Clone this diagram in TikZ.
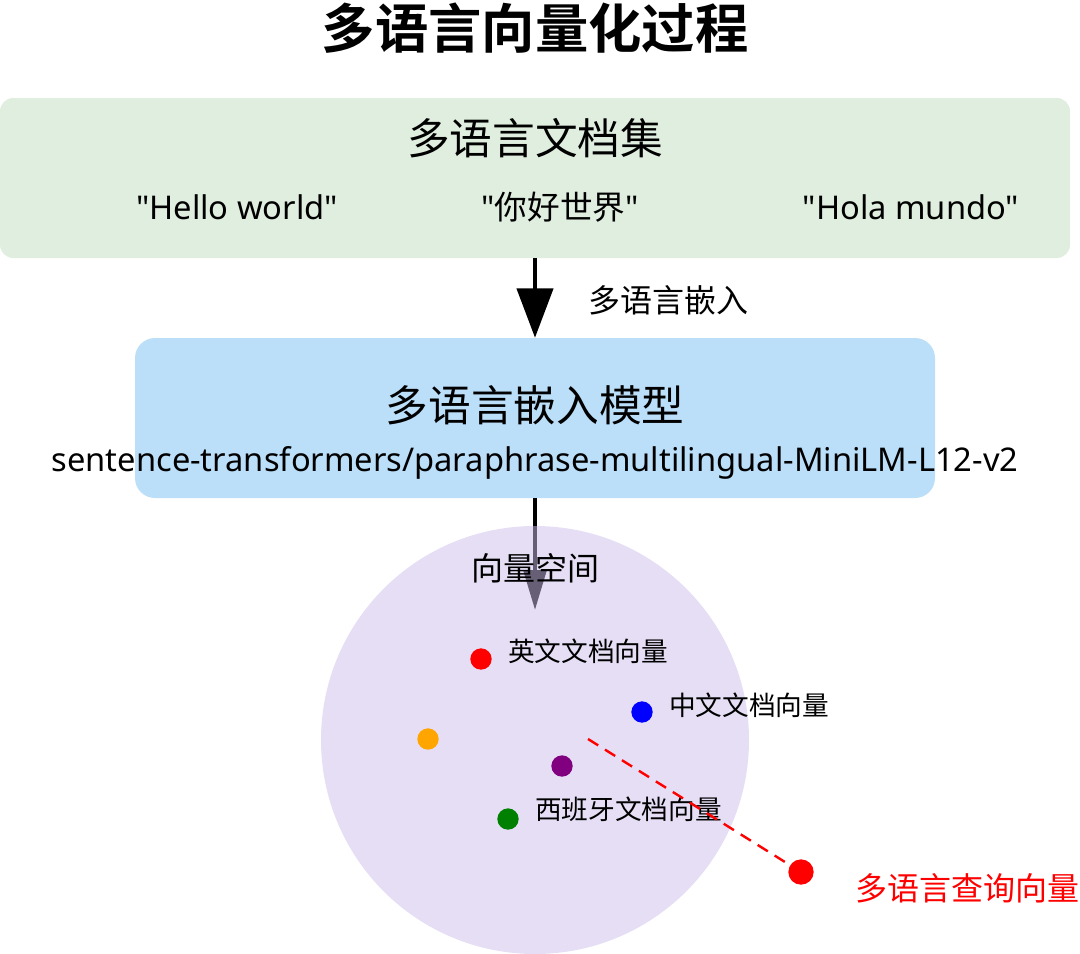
\documentclass[tikz,border=0pt]{standalone}
\usepackage{fontspec}
\setmainfont{Noto Sans CJK SC}
\newfontfamily\cjkbold{Noto Sans CJK SC Bold}
\newfontfamily\latinfont{Noto Sans}
\newcommand\dq{\symbol{34}}
\usetikzlibrary{arrows.meta}
\definecolor{boxgreen}{RGB}{223,238,223}
\definecolor{boxblue}{RGB}{187,222,249}
\definecolor{spacepurple}{RGB}{205,190,235}
\definecolor{dotorange}{RGB}{255,165,0}
\definecolor{dotpurple}{RGB}{128,0,128}
\definecolor{dotgreen}{RGB}{0,128,0}
\tikzset{
  panel/.style={rounded corners=10pt, inner sep=0pt},
  dot/.style={circle, inner sep=0pt, minimum size=16pt},
  lbl/.style={font=\fontsize{20}{24}\selectfont, anchor=west, inner sep=0pt},
  sample/.style={font=\latinfont\fontsize{24.5}{28}\selectfont, inner sep=0pt},
  bigarrow/.style={line width=3.2pt, -{Triangle[width=27pt,length=37pt]}},
}
\begin{document}
\begin{tikzpicture}[x=0.75pt,y=-0.75pt]
\useasboundingbox (0,0) rectangle (1080,953);
\node[font=\cjkbold\fontsize{40}{44}\selectfont, inner sep=0pt] (title) at (535,28) {多语言向量化过程};
\node[panel, fill=boxgreen, minimum width=802.5pt, minimum height=120pt] (docs) at (535,178) {};
\node[font=\fontsize{32}{36}\selectfont, inner sep=0pt] (docstitle) at (535,138) {多语言文档集};
\node[sample] (en) at (237,207) {\dq Hello world\dq};
\node[sample] (zh) at (560,207) {\dq{\rmfamily 你好世界}\dq};
\node[sample] (es) at (911,207) {\dq Hola mundo\dq};
\node[panel, fill=boxblue, rounded corners=15pt, minimum width=600pt, minimum height=120pt] (model) at (535,418) {};
\node[font=\fontsize{32}{36}\selectfont, inner sep=0pt] (modeltitle) at (535,405) {多语言嵌入模型};
\node[sample] (modelname) at (535,463) {sentence-transformers/paraphrase-multilingual-MiniLM-L12-v2};
\draw[bigarrow] (docs.south) -- (model.north);
\node[font=\fontsize{24}{28}\selectfont, inner sep=0pt] (embedlbl) at (668,300) {多语言嵌入};
\coordinate (spacetip) at (535,610);
\draw[line width=3.2pt, -{Triangle[width=17pt,length=30pt]}] (model.south) -- (spacetip);
\node[circle, fill=spacepurple, fill opacity=0.5, minimum size=321pt, inner sep=0pt] (space) at (535,740) {};
\node[font=\fontsize{24}{28}\selectfont, inner sep=0pt] (spacelbl) at (535,568) {向量空间};
\node[dot, fill=red] (d1) at (481,659) {};
\node[lbl] (l1) at (508,651) {英文文档向量};
\node[dot, fill=blue] (d2) at (642,712) {};
\node[lbl] (l2) at (669,705) {中文文档向量};
\node[dot, fill=dotorange] (d3) at (428,739) {};
\node[dot, fill=dotpurple] (d4) at (562,766) {};
\node[dot, fill=dotgreen] (d5) at (508,819) {};
\node[lbl] (l5) at (535,809) {西班牙文档向量};
\coordinate (dashstart) at (588,739);
\node[dot, fill=red, minimum size=19pt] (q) at (801,872) {};
\draw[red, line width=1.8pt, dash pattern=on 9pt off 6pt] (dashstart) -- (q);
\node[lbl, text=red, font=\fontsize{24}{28}\selectfont] (ql) at (855,888) {多语言查询向量};
\end{tikzpicture}
\end{document}
